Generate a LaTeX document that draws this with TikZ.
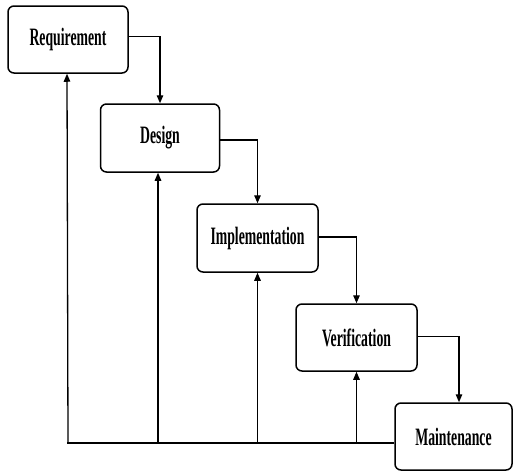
\documentclass[tikz,border=0pt]{standalone}
\usepackage{fontspec}
\setmainfont{Liberation Serif}
\usetikzlibrary{arrows.meta}
\tikzset{
  stage/.style={draw=black, line width=1.5pt, rounded corners=6pt, fill=white,
    inner sep=0pt, font=\fontsize{25}{30}\selectfont\bfseries},
  conn/.style={line width=1.3pt, -{Triangle[length=8pt,width=6.5pt]}},
  plain/.style={line width=1.3pt}
}
\newcommand{\sq}[1]{\scalebox{0.55}[1]{#1}}
\begin{document}
\begin{tikzpicture}[x=1pt,y=-1pt]
\useasboundingbox (0,0) rectangle (513,471);
\node[stage, minimum width=120pt, minimum height=67pt] (req) at (68,39.5) {\sq{Requirement}};
\node[stage, minimum width=119pt, minimum height=68pt] (des) at (160,138) {\sq{Design}};
\node[stage, minimum width=121pt, minimum height=68pt] (imp) at (257.5,238) {\sq{Implementation}};
\node[stage, minimum width=121pt, minimum height=67pt] (ver) at (356.5,337.5) {\sq{Verification}};
\node[stage, minimum width=117pt, minimum height=67pt] (mai) at (453.5,436.5) {\sq{Maintenance}};
\coordinate (base) at (67,443);
% forward flow
\draw[conn] ([yshift=3pt]req.east) -| (des.north);
\draw[conn] ([yshift=-2pt]des.east) -| (imp.north);
\draw[conn] ([yshift=1pt]imp.east) -| (ver.north);
\draw[conn] ([yshift=1pt]ver.east) -| ([xshift=5.5pt]mai.north);
% feedback
\draw[plain] (mai.west |- base) -- (base);
\draw[conn] (base) -- (base -| req.south) -- ([xshift=-1pt]req.south);
\draw[conn] ([xshift=-2pt]des.south |- base) -- ([xshift=-2pt]des.south);
\draw[conn] (imp.south |- base) -- (imp.south);
\draw[conn] (ver.south |- base) -- (ver.south);
\end{tikzpicture}
\end{document}
